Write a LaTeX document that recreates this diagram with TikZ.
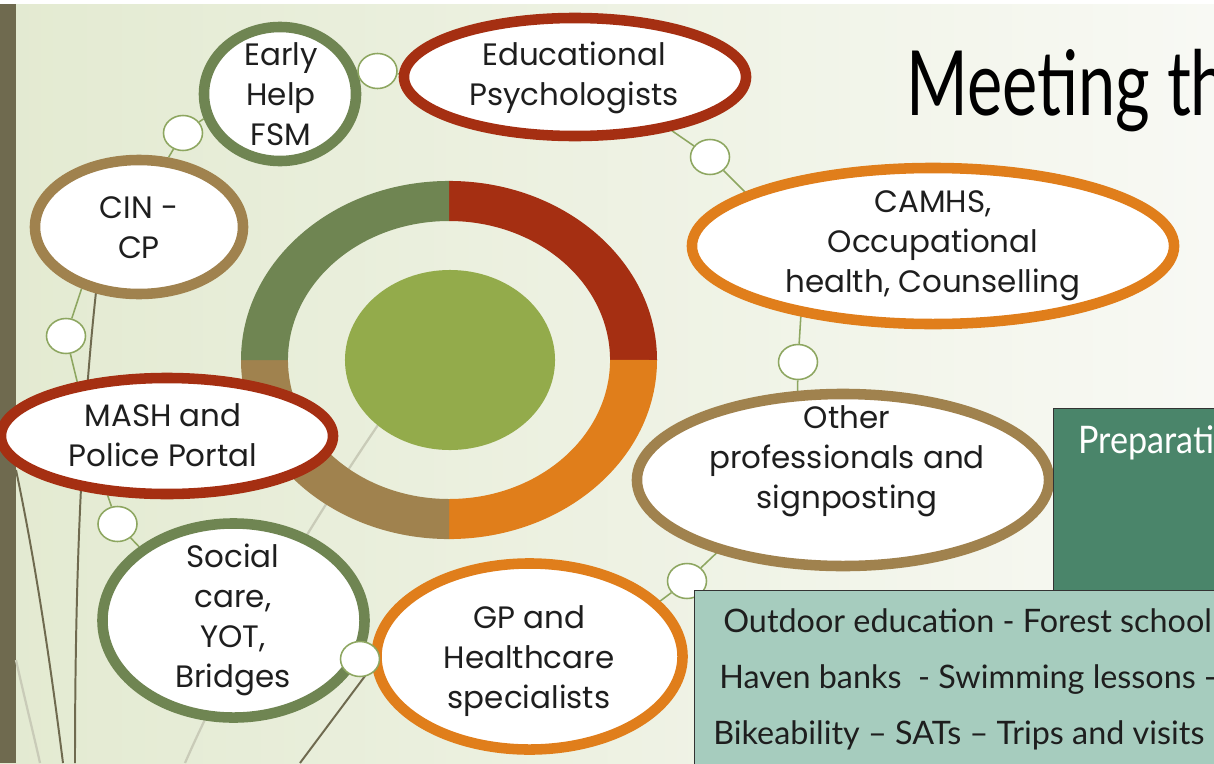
\documentclass[tikz,border=0pt]{standalone}
\usepackage{fontspec}
\setmainfont{Poppins}
\newfontfamily\handfont{Lato}[FakeStretch=1.0]
\newfontfamily\prepfont{Lato}[FakeStretch=0.9]
\newfontfamily\titlefont{Lato}[FakeStretch=0.74]
\usetikzlibrary{shapes.geometric}
\pgfdeclarelayer{back}
\pgfsetlayers{back,main}
\definecolor{bgL}{HTML}{E3EAD1}
\definecolor{bgM}{HTML}{EEF2E3}
\definecolor{bgR}{HTML}{F8F9F4}
\definecolor{cred}{HTML}{A52F12}
\definecolor{corange}{HTML}{E07E1B}
\definecolor{cbrown}{HTML}{A0824E}
\definecolor{cgreen}{HTML}{6F8552}
\definecolor{clime}{HTML}{93AB4B}
\definecolor{ccirc}{HTML}{8DA660}
\definecolor{cbar}{HTML}{6F6A4F}
\definecolor{cdeco}{HTML}{C9CBB8}
\definecolor{cdark}{HTML}{4A856A}
\definecolor{clight}{HTML}{A6CCBE}
\definecolor{ctxt}{HTML}{1E1E1E}
\begin{document}
\begin{tikzpicture}[x=0.025cm,y=-0.025cm,
  ringnode/.style={ellipse, draw, line width=7.5pt, fill=white, inner sep=0pt},
  dotnode/.style={ellipse, draw=ccirc, line width=1.1pt, fill=white,
    minimum width=0.975cm, minimum height=0.875cm, inner sep=0pt},
  myconn/.style={draw=ccirc, line width=1.1pt},
  ringtext/.style={align=center, font=\fontsize{22}{28.5}\selectfont, text=ctxt, inner sep=0pt},
  decodark/.style={draw=cbar, line width=1.4pt},
  decolight/.style={draw=cdeco, line width=1.6pt},
  boxnode/.style={rectangle, draw=black!80, line width=0.9pt, anchor=north west, inner sep=0pt},
  handtext/.style={font=\handfont\fontsize{23}{23}\selectfont, anchor=base west, inner sep=0pt, text=ctxt}
]
\useasboundingbox (0,0) rectangle (1214,763);
\clip (0,0) rectangle (1214,763);
\begin{pgfonlayer}{back}
  \fill[white] (0,0) rectangle (1214,763);
  \shade[left color=bgL, middle color=bgM, right color=bgR] (0,4) rectangle (1214,763);
  \fill[cbar] (0,4) rectangle (16,763);
  % decorative stems
  \draw[decodark] (96,292) .. controls (80,440) and (75,600) .. (75,763);
  \draw[decodark] (16,470) .. controls (35,560) and (50,660) .. (63,763);
  \draw[decolight] (16,660) .. controls (25,700) and (35,740) .. (40,763);
  \draw[decolight] (378,425) .. controls (300,540) and (230,660) .. (185,763);
  \draw[decodark] (368,672) -- (300,763);
  % donut
  \fill[cred] (657,360) arc[start angle=0,end angle=90,x radius=5.2cm,y radius=4.475cm]
     -- (449,221) arc[start angle=90,end angle=0,x radius=4.025cm,y radius=3.475cm] -- cycle;
  \fill[corange] (657,360) arc[start angle=0,end angle=-90,x radius=5.2cm,y radius=4.475cm]
     -- (449,499) arc[start angle=-90,end angle=0,x radius=4.025cm,y radius=3.475cm] -- cycle;
  \fill[cbrown] (241,360) arc[start angle=180,end angle=270,x radius=5.2cm,y radius=4.475cm]
     -- (449,499) arc[start angle=270,end angle=180,x radius=4.025cm,y radius=3.475cm] -- cycle;
  \fill[cgreen] (241,360) arc[start angle=180,end angle=90,x radius=5.2cm,y radius=4.475cm]
     -- (449,221) arc[start angle=90,end angle=180,x radius=4.025cm,y radius=3.475cm] -- cycle;
  \fill[clime] (450,360) ellipse[x radius=2.625cm,y radius=2.25cm];
\end{pgfonlayer}

% ellipses
\node[ringnode, draw=cgreen, minimum width=3.8cm, minimum height=3.35cm] (eh) at (280,94) {};
\node[ringnode, draw=cbrown, minimum width=5.2cm, minimum height=3.35cm] (cin) at (139,227) {};
\node[ringnode, draw=cred, minimum width=8.3cm, minimum height=2.9cm] (mash) at (167,436) {};
\node[ringnode, draw=cgreen, minimum width=6.55cm, minimum height=4.85cm] (sc) at (233.5,620.5) {};
\node[ringnode, draw=corange, minimum width=7.65cm, minimum height=4.65cm] (gp) at (529.5,656.5) {};
\node[ringnode, draw=cbrown, minimum width=10.3cm, minimum height=4.3cm] (oth) at (843,480) {};
\node[ringnode, draw=corange, minimum width=12.05cm, minimum height=3.9cm] (camhs) at (933,246) {};
\node[ringnode, draw=cred, minimum width=8.55cm, minimum height=2.95cm] (ep) at (575,77) {};

% small circles
\node[dotnode] (c1) at (377.5,71) {};
\node[dotnode] (c2) at (183,133) {};
\node[dotnode] (c3) at (66,336) {};
\node[dotnode] (c4) at (117.5,524) {};
\node[dotnode] (c5) at (360,659) {};
\node[dotnode] (c6) at (687,581) {};
\node[dotnode] (c7) at (798,362) {};
\node[dotnode] (c8) at (710,157) {};

% connectors
\begin{pgfonlayer}{back}
  \draw[myconn] (cin.67) -- (c2) -- (eh.198);
  \draw[myconn] (eh.13) -- (c1) -- (ep.179);
  \draw[myconn] (ep.331) -- (c8) -- (camhs.164);
  \draw[myconn] (camhs.208) -- (c7) -- (oth.117);
  \draw[myconn] (oth.210) -- (c6) -- (gp.23);
  \draw[myconn] (sc.-10) -- (c5) -- (gp.185);
  \draw[myconn] (mash.225) -- (c4) -- (sc.142);
  \draw[myconn] (cin.227) -- (c3) -- (mash.149);
\end{pgfonlayer}

% texts
\node[ringtext] (eh-t) at (281,94) {Early\\Help\\FSM};
\node[ringtext] (cin-t) at (139,228) {CIN -\\CP};
\node[ringtext] (mash-t) at (163,435) {MASH and\\Police Portal};
\node[ringtext] (sc-t) at (233,620) {Social\\care,\\YOT,\\Bridges};
\node[ringtext] (gp-t) at (529,661) {GP and\\Healthcare\\specialists};
\node[ringtext] (oth-t) at (847,461) {Other\\professionals and\\signposting};
\node[ringtext] (camhs-t) at (933,246) {CAMHS,\\Occupational\\health, Counselling};
\node[ringtext] (ep-t) at (574,78) {Educational\\Psychologists};

% boxes
\node[boxnode, fill=cdark, minimum width=7.5cm, minimum height=4.6cm] (prep) at (1053,408) {};
\node[handtext, text=white, font=\prepfont\fontsize{27}{27}\selectfont] (prep-t) at (1078,453) {Preparation};
\node[boxnode, fill=clight, minimum width=15cm, minimum height=5cm] (act) at (694,590) {};
\node[handtext] (act-1) at (723,632) {Outdoor education - Forest school};
\node[handtext] (act-2) at (719,688) {Haven banks\ \ - Swimming lessons -};
\node[handtext] (act-3) at (713,744) {Bikeability – SATs – Trips and visits};

% title
\node[anchor=base west, inner sep=0pt, text=black, font=\titlefont\fontsize{64}{64}\selectfont] (title) at (906,115) {Meeting the};
\end{tikzpicture}
\end{document}
